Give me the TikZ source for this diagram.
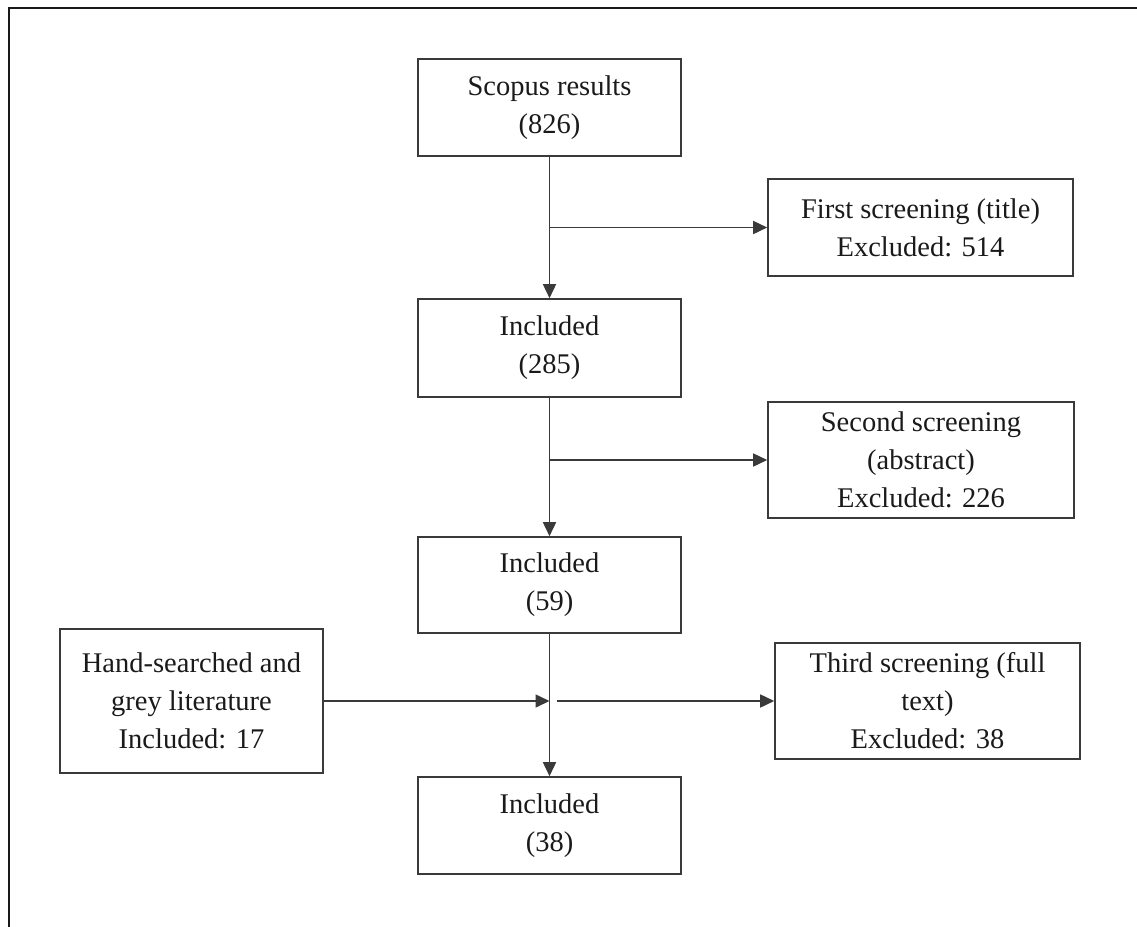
\documentclass[tikz,border=0pt]{standalone}
\usepackage{fontspec}
\setmainfont{Liberation Serif}
\usetikzlibrary{arrows.meta}
\definecolor{ln}{HTML}{3A3A3A}
\definecolor{tx}{HTML}{1A1A1A}
\tikzset{
  box/.style={draw=ln, line width=1.6pt, rectangle, inner sep=0pt, align=center,
    text=tx, font=\fontsize{28.5}{38}\selectfont},
  conn/.style={draw=ln, line width=1.6pt},
  arr/.style={conn, -{Triangle[length=14pt,width=13pt]}}
}
\begin{document}
\begin{tikzpicture}[x=1pt,y=-1pt]
\useasboundingbox (0,0) rectangle (1137,926);
\fill[white] (0,0) rectangle (1137,926);
% outer frame (right and bottom sides lie outside the picture)
\draw[line width=2.2pt, black!90] (9,960) -- (9,8) -- (1160,8);

\node[box, minimum width=263pt, minimum height=97pt] (scopus) at (549.5,107.5) {Scopus results\\(826)};
\node[box, minimum width=305pt, minimum height=97pt] (first) at (920.5,227.5) {First screening (title)\\Excluded: 514};
\node[box, minimum width=263pt, minimum height=98pt] (inc1) at (549.5,348) {Included\\(285)};
\node[box, minimum width=306pt, minimum height=116pt] (second) at (921,460) {Second screening\\(abstract)\\Excluded: 226};
\node[box, minimum width=263pt, minimum height=96pt] (inc2) at (549.5,585) {Included\\(59)};
\node[box, minimum width=263pt, minimum height=144pt] (hand) at (191.5,701) {Hand-searched and\\grey literature\\Included: 17};
\node[box, minimum width=305pt, minimum height=116pt] (third) at (927.5,701) {Third screening (full\\text)\\Excluded: 38};
\node[box, minimum width=263pt, minimum height=97pt] (inc3) at (549.5,825.5) {Included\\(38)};

\coordinate (gap) at (557,701);

\draw[arr] (scopus.south) -- (inc1.north);
\draw[arr] (first.west -| scopus.south) -- (first.west);
\draw[arr] (inc1.south) -- (inc2.north);
\draw[arr] (second.west -| inc1.south) -- (second.west);
\draw[arr] (inc2.south) -- (inc3.north);
\draw[arr] (hand.east) -- (hand.east -| inc2.south);
\draw[arr] (gap) -- (third.west);
\end{tikzpicture}
\end{document}
